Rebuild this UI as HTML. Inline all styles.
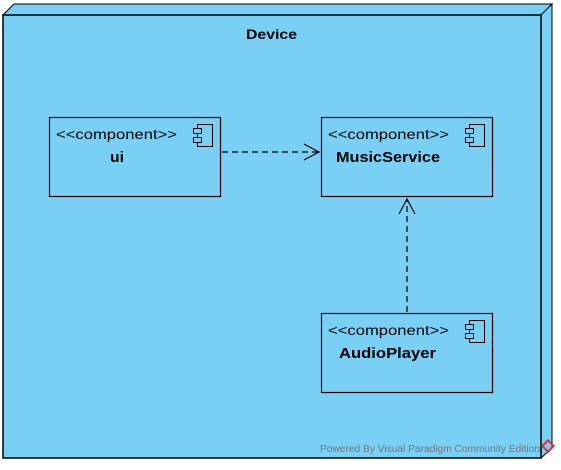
<!DOCTYPE html>
<html><head><style>body{margin:0;background:#fff}</style></head><body>
<svg width="561" height="465" xmlns="http://www.w3.org/2000/svg" font-family="Liberation Sans, sans-serif">
<polygon points="3,15 14,4 552,4 541,15" fill="#7acff5" stroke="#000" stroke-width="1"/>
<polygon points="541,15 552,4 552,448 541,458" fill="#7acff5" stroke="#000" stroke-width="1"/>
<rect x="3" y="15" width="538" height="443" fill="#7acff5" stroke="#000" stroke-width="1.5"/>
<text x="246" y="39" font-size="14" font-weight="bold" textLength="51" lengthAdjust="spacingAndGlyphs">Device</text>
<g stroke="#000" fill="none">
<rect x="49.5" y="117.5" width="171" height="79" stroke-width="1.2"/>
<rect x="321.5" y="117.5" width="171" height="79" stroke-width="1.2"/>
<rect x="321.5" y="313.5" width="171" height="79" stroke-width="1.2"/>
</g>
<g font-size="14">
<text x="56" y="139" textLength="121" lengthAdjust="spacingAndGlyphs">&lt;&lt;component&gt;&gt;</text>
<text x="328" y="139" textLength="121" lengthAdjust="spacingAndGlyphs">&lt;&lt;component&gt;&gt;</text>
<text x="328" y="335" textLength="121" lengthAdjust="spacingAndGlyphs">&lt;&lt;component&gt;&gt;</text>
</g>
<g font-size="15" font-weight="bold">
<text x="110" y="162" textLength="14" lengthAdjust="spacingAndGlyphs">ui</text>
<text x="336" y="162" textLength="104" lengthAdjust="spacingAndGlyphs">MusicService</text>
<text x="339" y="358" textLength="97" lengthAdjust="spacingAndGlyphs">AudioPlayer</text>
</g>
<g stroke="#000" fill="#7acff5" stroke-width="1">
<rect x="197.5" y="124.5" width="15" height="22"/><rect x="193.5" y="128.5" width="8" height="5"/><rect x="193.5" y="137.5" width="8" height="5"/>
<rect x="469.5" y="124.5" width="15" height="22"/><rect x="465.5" y="128.5" width="8" height="5"/><rect x="465.5" y="137.5" width="8" height="5"/>
<rect x="469.5" y="320.5" width="15" height="22"/><rect x="465.5" y="324.5" width="8" height="5"/><rect x="465.5" y="333.5" width="8" height="5"/>
</g>
<g stroke="#000" fill="none" stroke-width="1.2">
<line x1="222" y1="152" x2="318" y2="152" stroke-dasharray="6,4"/>
<polyline points="304,144 319,152 304,160"/>
<line x1="407" y1="312" x2="407" y2="200" stroke-dasharray="6,4"/>
<polyline points="399,214 407,199 415,214"/>
</g>
<text x="320" y="452" font-size="10" fill="#777" textLength="220" lengthAdjust="spacingAndGlyphs">Powered By  Visual Paradigm Community Edition</text>
<rect x="544" y="442" width="8" height="8" fill="none" stroke="#d33" stroke-width="2" transform="rotate(45 548 446)"/>
</svg>
</body></html>
